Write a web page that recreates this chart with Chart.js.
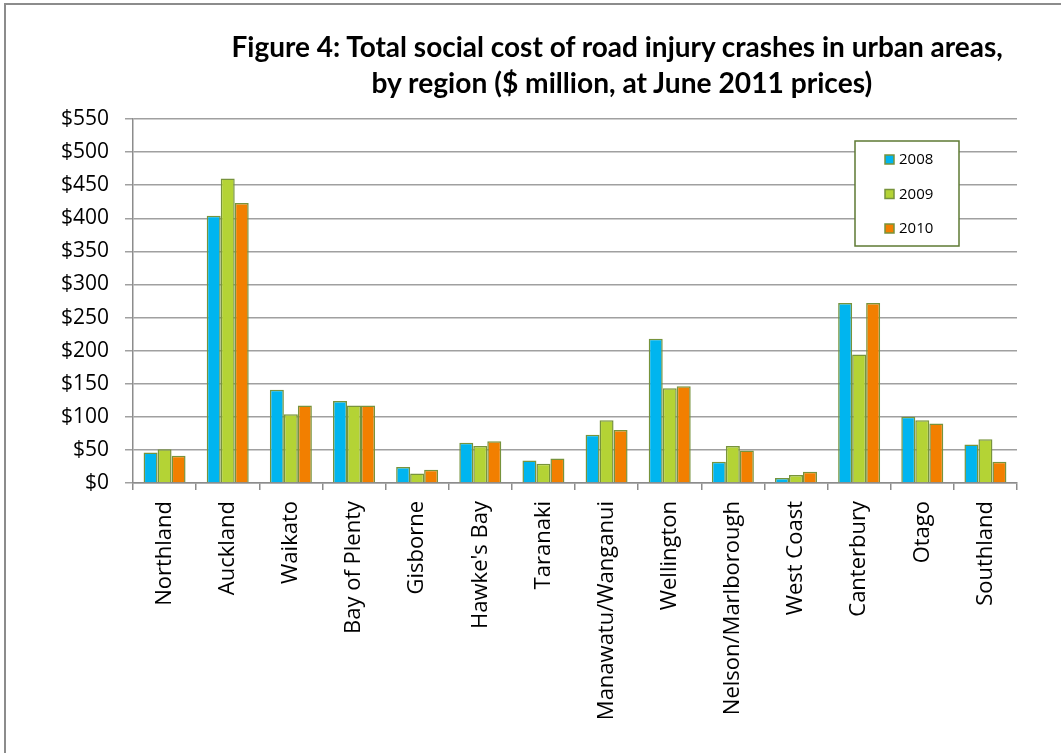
<!DOCTYPE html>
<html>
<head>
<meta charset="utf-8">
<script src="https://cdn.jsdelivr.net/npm/chart.js@4"></script>
<style>
  html,body{margin:0;padding:0;background:#fff;}
  #wrap{position:relative;width:1061px;height:753px;overflow:hidden;}
  #frame{position:absolute;left:4px;top:3px;width:1200px;height:900px;border-left:2px solid #8c8c8c;border-top:2px solid #8c8c8c;}
  canvas{position:absolute;left:0;top:0;}
  .tl{position:absolute;white-space:nowrap;font-family:Lato,'Open Sans',sans-serif;font-weight:bold;font-size:28px;color:#000;transform-origin:center center;}
</style>
</head>
<body>
<div id="wrap">
  <div id="frame"></div>
  <canvas id="c" width="1061" height="753"></canvas>
  <div class="tl" id="t1">Figure 4: Total social cost of road injury crashes in urban areas,</div>
  <div class="tl" id="t2">by region ($ million, at June 2011 prices)</div>
</div>
<script>
const categories = ["Northland","Auckland","Waikato","Bay of Plenty","Gisborne","Hawke's Bay","Taranaki","Manawatu/Wanganui","Wellington","Nelson/Marlborough","West Coast","Canterbury","Otago","Southland"];
const seriesNames = ["2008","2009","2010"];
const values2008 = [46, 404, 141, 124, 24, 61, 34, 73, 218, 32, 7.5, 272, 100, 58];
const values2009 = [51, 460, 104, 117, 14.5, 56, 29, 95, 143, 56, 12, 194, 95, 66];
const values2010 = [41, 423, 117, 117, 20, 63, 37, 80, 146, 49, 17, 272, 90, 32];
const yTicks = [0,50,100,150,200,250,300,350,400,450,500,550];

const colors = ["#00B5EF","#B4D335","#F27F00"];
const borderCol = "#77933C";

function placeTitle(id, cx, cy, targetW){
  const el = document.getElementById(id);
  const w = el.offsetWidth, h = el.offsetHeight;
  el.style.left = (cx - w/2) + "px";
  el.style.top = (cy - h/2) + "px";
  el.style.transform = "scaleX(" + (targetW / w) + ")";
}
placeTitle("t1", 617, 46, 771);
placeTitle("t2", 622, 82, 501);

const legendPlugin = {
  id: 'boxLegend',
  afterDraw(chart){
    const ctx = chart.ctx;
    ctx.save();
    const x0 = 855, y0 = 141, w = 104, h = 105;
    ctx.fillStyle = '#fff';
    ctx.fillRect(x0, y0, w, h);
    ctx.strokeStyle = '#5E7A33';
    ctx.lineWidth = 1.5;
    ctx.strokeRect(x0, y0, w, h);
    const ys = [160, 194.5, 229];
    chart.data.datasets.forEach((ds, i) => {
      ctx.fillStyle = ds.backgroundColor;
      ctx.fillRect(885, ys[i]-5, 9, 9);
      ctx.strokeStyle = borderCol;
      ctx.lineWidth = 1.5;
      ctx.strokeRect(885, ys[i]-5, 9, 9);
      ctx.fillStyle = '#000';
      ctx.font = '15px "Open Sans"';
      ctx.textBaseline = 'middle';
      ctx.textAlign = 'left';
      ctx.fillText(ds.label, 899, ys[i]);
    });
    ctx.restore();
  }
};

new Chart(document.getElementById('c'), {
  type: 'bar',
  data: {
    labels: categories,
    datasets: [
      {label: seriesNames[0], data: values2008, backgroundColor: colors[0]},
      {label: seriesNames[1], data: values2009, backgroundColor: colors[1]},
      {label: seriesNames[2], data: values2010, backgroundColor: colors[2]}
    ].map(d => Object.assign(d, {borderColor: borderCol, borderWidth: 1.5, categoryPercentage: 0.665, barPercentage: 1.0}))
  },
  options: {
    responsive: false,
    animation: false,
    devicePixelRatio: 1,
    layout: {padding: {left: 0, right: 44, top: 119, bottom: 0}},
    plugins: {legend: {display: false}, title: {display: false}, tooltip: {enabled: false}},
    scales: {
      x: {
        afterFit(scale){ scale.height = 270; },
        grid: {drawOnChartArea: false, color: '#8c8c8c', lineWidth: 1.5, tickLength: 7, offset: true},
        border: {color: '#8c8c8c', width: 1.5},
        ticks: {maxRotation: 90, minRotation: 90, padding: 11, color: '#000', font: {family: 'Open Sans', size: 22}, autoSkip: false}
      },
      y: {
        min: 0, max: 550,
        afterFit(scale){ scale.width = 133; },
        afterBuildTicks(scale){ scale.ticks = yTicks.map(v => ({value: v})); },
        grid: {color: '#a0a0a0', lineWidth: 1.5, tickLength: 8},
        border: {color: '#8c8c8c', width: 1.5},
        ticks: {padding: 16, color: '#000', font: {family: 'Open Sans', size: 21}, callback: v => '$' + v}
      }
    }
  },
  plugins: [legendPlugin]
});
</script>
</body>
</html>
